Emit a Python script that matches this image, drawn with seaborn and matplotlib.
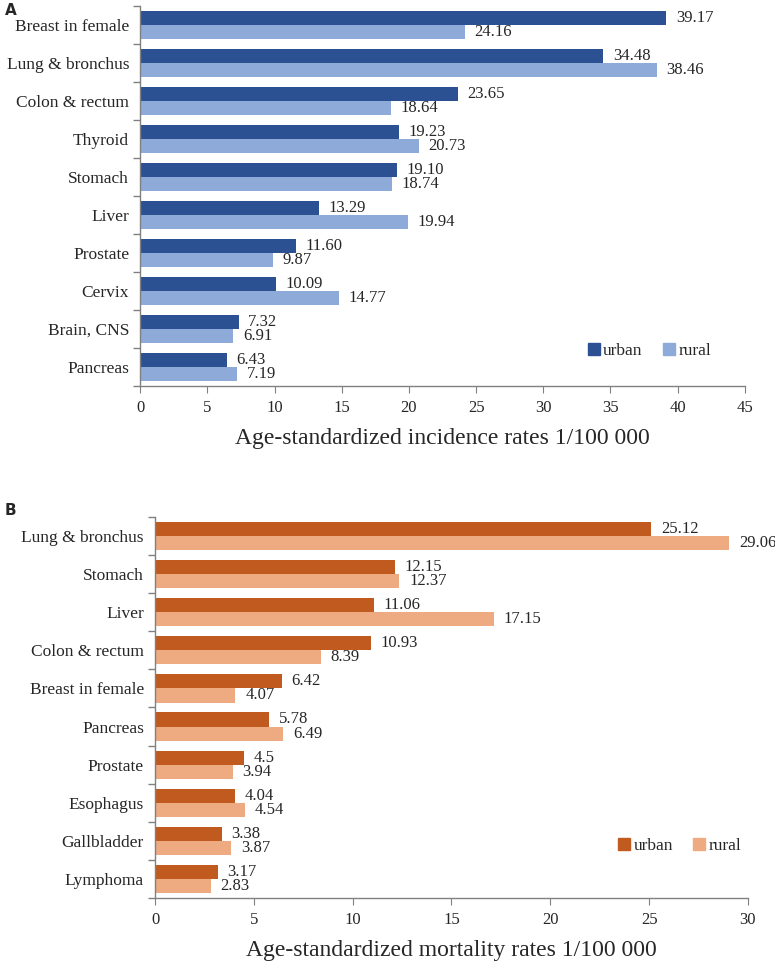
import numpy as np
import pandas as pd
import matplotlib
matplotlib.use('Agg')
import matplotlib.pyplot as plt
import seaborn as sns

# panel A - incidence
inc_sites = ['Breast in female', 'Lung & bronchus', 'Colon & rectum', 'Thyroid', 'Stomach',
             'Liver', 'Prostate', 'Cervix', 'Brain, CNS', 'Pancreas']
inc_urban = [39.17, 34.48, 23.65, 19.23, 19.10, 13.29, 11.60, 10.09, 7.32, 6.43]
inc_rural = [24.16, 38.46, 18.64, 20.73, 18.74, 19.94, 9.87, 14.77, 6.91, 7.19]
inc_urban_lbl = ['39.17', '34.48', '23.65', '19.23', '19.10', '13.29', '11.60', '10.09', '7.32', '6.43']
inc_rural_lbl = ['24.16', '38.46', '18.64', '20.73', '18.74', '19.94', '9.87', '14.77', '6.91', '7.19']

# panel B - mortality
mort_sites = ['Lung & bronchus', 'Stomach', 'Liver', 'Colon & rectum', 'Breast in female',
              'Pancreas', 'Prostate', 'Esophagus', 'Gallbladder', 'Lymphoma']
mort_urban = [25.12, 12.15, 11.06, 10.93, 6.42, 5.78, 4.5, 4.04, 3.38, 3.17]
mort_rural = [29.06, 12.37, 17.15, 8.39, 4.07, 6.49, 3.94, 4.54, 3.87, 2.83]
mort_urban_lbl = ['25.12', '12.15', '11.06', '10.93', '6.42', '5.78', '4.5', '4.04', '3.38', '3.17']
mort_rural_lbl = ['29.06', '12.37', '17.15', '8.39', '4.07', '6.49', '3.94', '4.54', '3.87', '2.83']

sns.set_style('white')
plt.rcParams['font.family'] = ['Liberation Serif', 'DejaVu Serif']

fig = plt.figure(figsize=(7.75, 9.69), dpi=100)
axA = fig.add_axes([0.181, 0.6017, 0.780, 0.3923])
axB = fig.add_axes([0.200, 0.0733, 0.765, 0.3932])


def panel(ax, sites, urban, rural, ulbl, rlbl, colors, xmax, xlabel, legend_pos):
    df = pd.DataFrame({
        'site': sites * 2,
        'rate': urban + rural,
        'area': ['urban'] * len(sites) + ['rural'] * len(sites),
    })
    sns.barplot(data=df, x='rate', y='site', hue='area', orient='h', order=sites,
                hue_order=['urban', 'rural'], palette=colors, width=0.74,
                saturation=1, ax=ax, legend=False, errorbar=None, linewidth=0)
    for cont, lbl in zip(ax.containers, [ulbl, rlbl]):
        ax.bar_label(cont, labels=lbl, padding=7, fontsize=12)
    ax.set_xlim(0, xmax)
    ax.set_ylim(len(sites) - 0.5, -0.5)
    ax.set_xticks(np.arange(0, xmax + 1, 5))
    ax.set_yticks(np.arange(-0.5, len(sites)), minor=True)
    ax.tick_params(axis='y', which='major', length=0, labelsize=12.5, pad=8)
    ax.tick_params(axis='y', which='minor', length=5, color='#808080', width=1, left=True)
    ax.tick_params(axis='x', length=5, color='#808080', labelsize=12, bottom=True, pad=5)
    for s in ['top', 'right']:
        ax.spines[s].set_visible(False)
    for s in ['left', 'bottom']:
        ax.spines[s].set_color('#808080')
        ax.spines[s].set_linewidth(1)
    ax.set_ylabel('')
    ax.set_xlabel(xlabel, fontsize=17, labelpad=9)
    handles = [plt.Line2D([], [], marker='s', linestyle='', color=c, markersize=8) for c in colors]
    ax.legend(handles, ['urban', 'rural'], ncol=2, frameon=False, fontsize=12.5,
              loc='lower right', bbox_to_anchor=legend_pos, handletextpad=0.05,
              columnspacing=1.0, handlelength=1)


panel(axA, inc_sites, inc_urban, inc_rural, inc_urban_lbl, inc_rural_lbl,
      ['#2c5192', '#8eaad9'], 45, 'Age-standardized incidence rates 1/100 000', (0.97, 0.03))
panel(axB, mort_sites, mort_urban, mort_rural, mort_urban_lbl, mort_rural_lbl,
      ['#c05a1e', '#eeaa80'], 30, 'Age-standardized mortality rates 1/100 000', (1.015, 0.075))

fig.text(0.006, 0.997, 'A', fontsize=11, fontweight='bold', family='DejaVu Sans', va='top')
fig.text(0.006, 0.481, 'B', fontsize=11, fontweight='bold', family='DejaVu Sans', va='top')

fig.savefig('out.png', dpi=100)
